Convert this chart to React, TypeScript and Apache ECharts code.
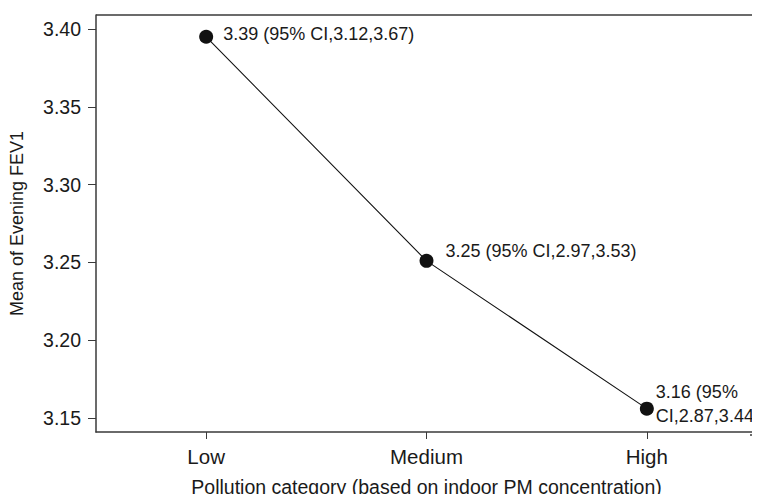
import React, { useEffect, useRef } from "react";
import * as echarts from "echarts";

const categories = ["Low", "Medium", "High"];
const meanValues = [3.395, 3.251, 3.156];
const pointLabels = [
  "3.39 (95% CI,3.12,3.67)",
  "3.25 (95% CI,2.97,3.53)",
  "3.16 (95%\nCI,2.87,3.44)",
];
const yTicks = [3.15, 3.2, 3.25, 3.3, 3.35, 3.4];
const yMin = 3.141;
const yMax = 3.409;

const FONT = "'Liberation Sans', Arial, Helvetica, sans-serif";
const TXT = "#1a1a1a";
const AX = "#3a3a3a";

const labelPlacement = [
  { distance: 10, offset: [0, -3] },
  { distance: 12, offset: [0, -10] },
  { distance: 2, offset: [0, -4.5] },
];

export default function App() {
  const ref = useRef<HTMLDivElement>(null);
  useEffect(() => {
    if (!ref.current) return;
    const chart = echarts.init(ref.current, null, { renderer: "svg" });
    chart.setOption({
      animation: false,
      backgroundColor: "#ffffff",
      textStyle: { fontFamily: FONT },
      grid: { left: 96, top: 15, right: 3, bottom: 67, containLabel: false },
      graphic: [
        {
          type: "line",
          shape: { x1: 96, y1: 15, x2: 760, y2: 15 },
          style: { stroke: AX, lineWidth: 1.5 },
          z: 10,
        },
        {
          type: "line",
          shape: { x1: 750, y1: 435, x2: 760, y2: 435 },
          style: { stroke: AX, lineWidth: 1.5 },
          z: 10,
        },
      ],
      xAxis: {
        type: "category",
        data: categories,
        boundaryGap: true,
        name: "Pollution category (based on indoor PM concentration)",
        nameLocation: "middle",
        nameGap: 45,
        nameTextStyle: { fontSize: 19.5, color: TXT, fontFamily: FONT },
        axisLine: { show: true, lineStyle: { color: AX, width: 1.5 } },
        axisTick: { show: true, alignWithLabel: true, length: 7, lineStyle: { color: AX, width: 1 } },
        axisLabel: { fontSize: 20.5, color: TXT, margin: 14, fontFamily: FONT },
        splitLine: { show: false },
      },
      yAxis: {
        type: "value",
        min: yMin,
        max: yMax,
        name: "Mean of Evening FEV1",
        nameLocation: "middle",
        nameGap: 70,
        nameRotate: 90,
        nameTextStyle: { fontSize: 18, color: TXT, fontFamily: FONT },
        axisLine: { show: true, lineStyle: { color: AX, width: 1.5 } },
        axisTick: { show: true, length: 8, customValues: yTicks, lineStyle: { color: AX, width: 1 } },
        axisLabel: {
          fontSize: 19.5,
          color: TXT,
          margin: 15,
          fontFamily: FONT,
          customValues: yTicks,
          formatter: (v: number) => v.toFixed(2),
        },
        splitLine: { show: false },
      },
      series: [
        {
          type: "line",
          data: meanValues.map((v, i) => ({
            value: v,
            label: {
              show: true,
              position: "right",
              distance: labelPlacement[i].distance,
              offset: labelPlacement[i].offset,
              formatter: pointLabels[i],
              fontSize: 18,
              lineHeight: 24,
              color: TXT,
              fontFamily: FONT,
              align: "left",
            },
          })),
          symbol: "circle",
          symbolSize: 14,
          itemStyle: { color: "#111111" },
          lineStyle: { color: "#111111", width: 1.1 },
        },
      ],
    });
    return () => chart.dispose();
  }, []);
  return <div ref={ref} style={{ width: 760, height: 502, margin: -8 }} />;
}
